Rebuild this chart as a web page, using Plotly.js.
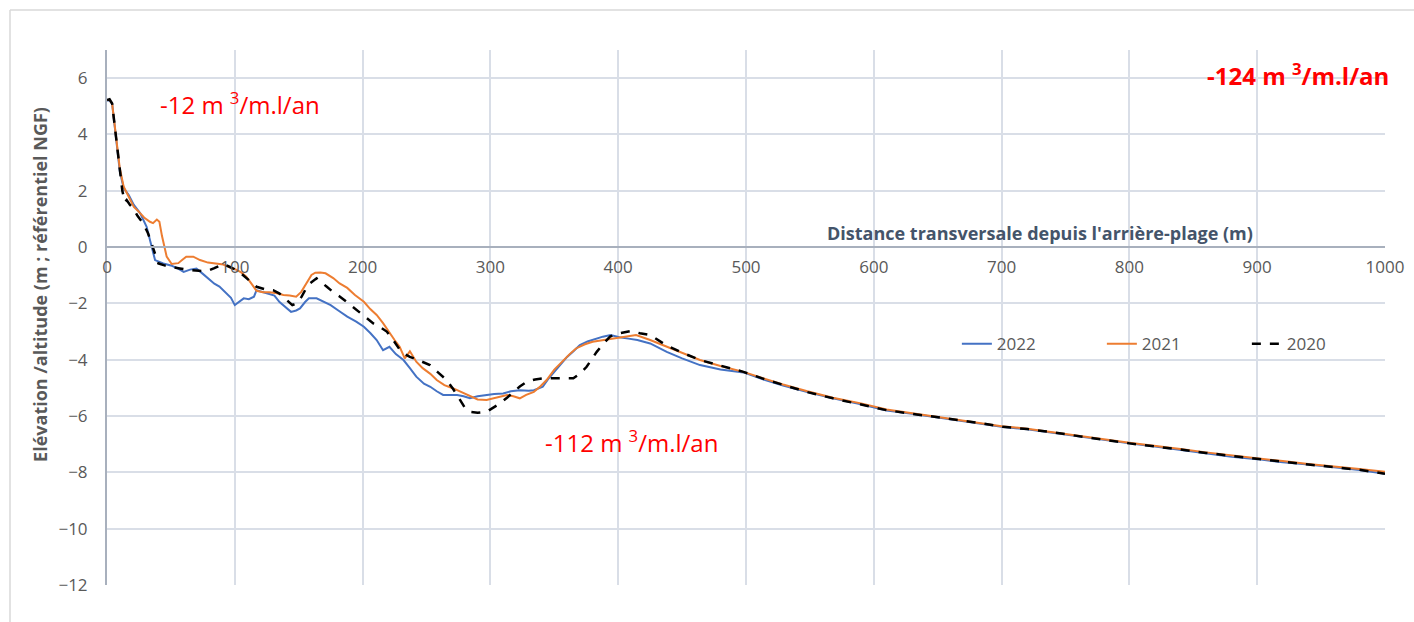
<!DOCTYPE html>
<html><head><meta charset="utf-8">
<script src="https://cdn.plot.ly/plotly-3.0.1.min.js"></script>
<style>html,body{margin:0;padding:0;background:#fff;}#chart{width:1414px;height:622px;}</style>
</head><body><div id="chart"></div>
<script>
const dist2022 = [0,2,4,6,8,10,13,17,21,26,31,34,37.6,44,50,55,60,65,70,75,80,84,88,93,97,100,103,107,111,115,117,122,127,131,135,139,144,148,151,155,158,164,170,175,181,188,195,201,206,211,216,221,226,232,237,242,248,253,258,263,268,274,279,284,290,297,303,310,316,323,330,334,341,345,349,354,360,365,370,376,383,388,394,401,408,415,425,438,450,464,480,498,515,529,548,568,590,610,630,650,670,685,700,720,740,760,780,800,820,840,860,880,900,920,940,960,980,1000];
const elev2022 = [5.22,5.2,5.1,4.3,3.4,2.7,2.1,1.85,1.5,1.2,0.72,0.2,-0.46,-0.58,-0.65,-0.75,-0.88,-0.8,-0.76,-0.95,-1.15,-1.3,-1.4,-1.64,-1.8,-2.06,-1.95,-1.82,-1.85,-1.76,-1.53,-1.6,-1.65,-1.72,-1.95,-2.12,-2.3,-2.25,-2.18,-1.95,-1.82,-1.82,-1.95,-2.06,-2.25,-2.47,-2.65,-2.83,-3.05,-3.3,-3.66,-3.54,-3.8,-4.01,-4.3,-4.6,-4.85,-4.96,-5.12,-5.25,-5.25,-5.25,-5.3,-5.37,-5.3,-5.25,-5.22,-5.2,-5.12,-5.08,-5.1,-5.08,-4.96,-4.7,-4.48,-4.2,-3.9,-3.7,-3.48,-3.35,-3.24,-3.18,-3.12,-3.2,-3.25,-3.3,-3.42,-3.72,-3.95,-4.19,-4.35,-4.45,-4.72,-4.92,-5.15,-5.37,-5.58,-5.8,-5.92,-6.05,-6.18,-6.27,-6.38,-6.47,-6.6,-6.72,-6.86,-6.97,-7.08,-7.2,-7.32,-7.45,-7.53,-7.64,-7.72,-7.82,-7.92,-8.05];

const dist2021 = [0,2,4,6,8,10,13,17,21,25,29,33.6,36,39,41,43,46.7,50.6,55.8,59,62,67.5,72.8,79,85.8,91,96,101,105,109,113,117,122,127,133,138,143,148,152,156,160,163,167,171,177,182,188,194,201,206,211,216,221,225,229,233,237,242,247,253,258,264,271,276,281.5,290,297,305,313,318,323,328,334,339,344,350,357,362,367,374,380,391,401,408,414,425,438,450,464,480,498,515,529,548,568,590,610,630,650,670,685,700,720,740,760,780,800,820,840,860,880,900,920,940,960,980,1000];
const elev2021 = [5.22,5.22,5.1,4.4,3.5,2.8,2.15,1.8,1.43,1.25,1.05,0.9,0.85,0.98,0.9,0.4,-0.34,-0.6,-0.57,-0.45,-0.34,-0.34,-0.46,-0.55,-0.6,-0.62,-0.72,-0.8,-0.9,-1.05,-1.3,-1.55,-1.6,-1.6,-1.64,-1.7,-1.72,-1.76,-1.59,-1.3,-0.99,-0.91,-0.9,-0.93,-1.1,-1.29,-1.45,-1.7,-1.94,-2.2,-2.41,-2.7,-3.06,-3.3,-3.54,-3.95,-3.7,-4.07,-4.3,-4.5,-4.72,-4.9,-5.02,-5.12,-5.25,-5.41,-5.43,-5.35,-5.25,-5.3,-5.37,-5.25,-5.14,-4.95,-4.72,-4.35,-4.01,-3.8,-3.6,-3.45,-3.36,-3.28,-3.2,-3.16,-3.12,-3.3,-3.54,-3.78,-4.01,-4.22,-4.43,-4.68,-4.88,-5.12,-5.35,-5.55,-5.77,-5.9,-6.03,-6.16,-6.24,-6.36,-6.45,-6.57,-6.68,-6.82,-6.95,-7.05,-7.17,-7.29,-7.4,-7.5,-7.6,-7.7,-7.78,-7.88,-7.98];

const dist2020 = [0,2,4,6,8,10,12,14,15.4,18,20.6,24,28.4,32,35,38,40.2,45,49.3,57,65,72,78,84,91,95,98.8,104,110,117,124,130,135,140.6,145,148.4,152.3,156,158.8,164,168,172,177,182.3,189,195.4,202,208.4,214,218.9,224,229.3,233,237,243,248,252.7,259,265.8,271,276.2,280,284,290,297,302,307.5,313,318,323,328.4,335,341.4,348,354.5,360,364.9,370,375.3,379,383.2,388,393.6,399,404,410,417,425,438,450,464,480,498,515,529,548,568,590,610,630,650,670,685,700,720,740,760,780,800,820,840,860,880,900,920,940,960,980,1000];
const elev2020 = [5.22,5.25,5.1,4.3,3.4,2.6,2.0,1.6,1.67,1.5,1.37,1.1,0.84,0.5,0.13,-0.3,-0.58,-0.65,-0.7,-0.76,-0.82,-0.84,-0.86,-0.75,-0.6,-0.68,-0.76,-0.9,-1.15,-1.41,-1.5,-1.53,-1.65,-1.9,-2.06,-2.0,-1.76,-1.45,-1.29,-1.11,-1.25,-1.41,-1.6,-1.76,-2.0,-2.24,-2.5,-2.71,-2.85,-3.0,-3.3,-3.66,-3.8,-3.9,-4.0,-4.1,-4.19,-4.45,-4.72,-5.05,-5.43,-5.7,-5.85,-5.88,-5.85,-5.7,-5.55,-5.35,-5.14,-4.95,-4.78,-4.7,-4.66,-4.66,-4.66,-4.66,-4.66,-4.5,-4.25,-4.0,-3.72,-3.45,-3.18,-3.08,-3.04,-2.98,-3.06,-3.12,-3.5,-3.75,-4.01,-4.22,-4.43,-4.7,-4.9,-5.15,-5.37,-5.58,-5.79,-5.92,-6.04,-6.17,-6.26,-6.38,-6.46,-6.58,-6.7,-6.84,-6.97,-7.07,-7.19,-7.31,-7.42,-7.53,-7.62,-7.72,-7.81,-7.91,-8.05];

const seriesNames = ['2022','2021','2020'];
const xTickVals = [0,100,200,300,400,500,600,700,800,900,1000];
const yTickVals = [-12,-10,-8,-6,-4,-2,0,2,4,6];
const volumeLabels = ['-12 m <sup>3</sup>/m.l/an','-112 m <sup>3</sup>/m.l/an','<b>-124 m <sup>3</sup>/m.l/an</b>'];
const xTitle = "Distance transversale depuis l'arrière-plage (m)";
const yTitle = "Elévation /altitude (m ; référentiel NGF)";

const grey = '#595959';
const traces = [
  {x: dist2022, y: elev2022, name: seriesNames[0], mode: 'lines', line: {color: '#4472C4', width: 2}},
  {x: dist2021, y: elev2021, name: seriesNames[1], mode: 'lines', line: {color: '#ED7D31', width: 2}},
  {x: dist2020, y: elev2020, name: seriesNames[2], mode: 'lines', line: {color: '#000000', width: 2.5, dash: 'dash'}}
];

const layout = {
  width: 1414, height: 622,
  margin: {l: 107, r: 29, t: 50, b: 37, autoexpand: false},
  paper_bgcolor: '#ffffff', plot_bgcolor: '#ffffff',
  font: {family: 'Open Sans, Noto Sans, sans-serif', color: grey},
  showlegend: true,
  legend: {orientation: 'h', x: 0.665, y: 0.45, yanchor: 'middle', xanchor: 'left',
    font: {size: 17, color: grey}, bgcolor: 'rgba(0,0,0,0)', entrywidth: 100, entrywidthmode: 'pixels', tracegroupgap: 0},
  xaxis: {range: [0, 1000], tickvals: xTickVals, ticks: '', showgrid: true, gridcolor: '#d9dee7', gridwidth: 2,
    showline: true, linecolor: '#a8b0bd', linewidth: 2, zeroline: false,
    anchor: 'free', position: 12/19, tickfont: {size: 17, color: grey}, ticklabelstandoff: 4},
  yaxis: {range: [-12, 7], tickvals: yTickVals, ticks: '', showgrid: true, gridcolor: '#d9dee7', gridwidth: 2,
    showline: true, linecolor: '#a8b0bd', linewidth: 2, zeroline: false, domain: [0, 1],
    tickfont: {size: 17, color: grey}, ticklabelstandoff: 14},
  annotations: [
    {x: -0.0524, y: 0.561, xref: 'paper', yref: 'paper', xanchor: 'center', yanchor: 'middle', textangle: -90, text: '<b>' + yTitle + '</b>', showarrow: false, font: {size: 18, color: grey}},
    {x: 0.04, y: 4.4, xref: 'paper', yref: 'y', xanchor: 'left', yanchor: 'bottom', text: volumeLabels[0], showarrow: false, font: {size: 24, color: '#ff0000'}},
    {x: 0.341, y: -7.58, xref: 'paper', yref: 'y', xanchor: 'left', yanchor: 'bottom', text: volumeLabels[1], showarrow: false, font: {size: 24, color: '#ff0000'}},
    {x: 1.005, y: 5.45, xref: 'paper', yref: 'y', xanchor: 'right', yanchor: 'bottom', text: volumeLabels[2], showarrow: false, font: {size: 24, color: '#ff0000'}},
    {x: 0.898, y: 0, xref: 'paper', yref: 'y', xanchor: 'right', yanchor: 'bottom', yshift: 0, text: '<b>' + xTitle + '</b>', showarrow: false, font: {size: 18, color: '#44546a'}}
  ],
  shapes: [
    {type: 'line', xref: 'paper', yref: 'paper', x0: -0.0759, x1: -0.0759, y0: 1.0748, y1: -0.1, line: {color: '#d9d9d9', width: 1.5}},
    {type: 'line', xref: 'paper', yref: 'paper', x0: -0.0759, x1: 1.05, y0: 1.0748, y1: 1.0748, line: {color: '#d9d9d9', width: 1.5}}
  ]
};
Plotly.newPlot('chart', traces, layout, {displayModeBar: false, staticPlot: true});
</script>
</body></html>
